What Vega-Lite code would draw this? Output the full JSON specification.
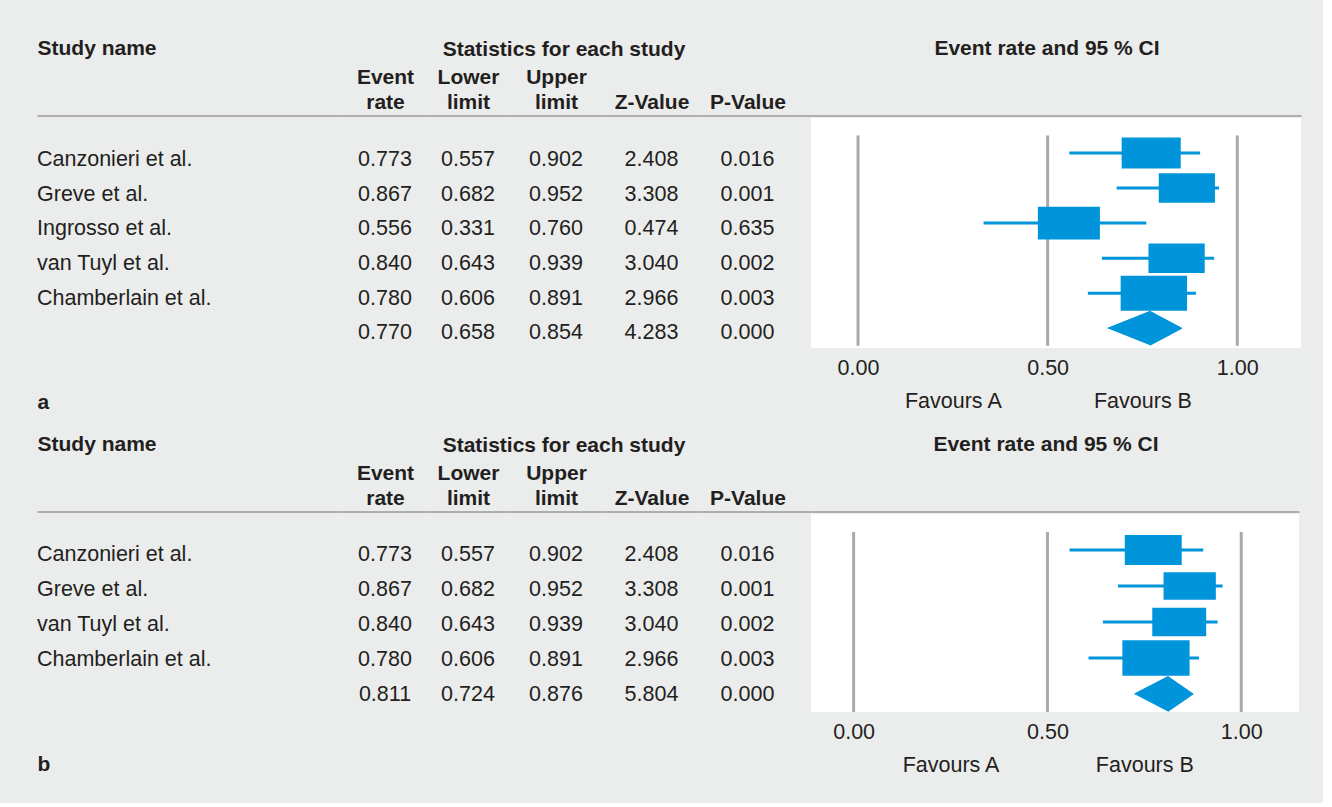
{
  "$schema": "https://vega.github.io/schema/vega-lite/v6.json",
  "background": "#ebecec",
  "padding": {"left": 37, "top": 37, "right": 22, "bottom": 27},
  "config": {
    "font": "Liberation Sans",
    "view": {"stroke": null},
    "text": {"font": "Liberation Sans", "fontSize": 21.5, "color": "#231f20"},
    "title": {"font": "Liberation Sans", "fontSize": 21, "fontWeight": "bold", "color": "#231f20", "anchor": "middle", "baseline": "alphabetic"},
    "axis": {"ticks": false, "tickSize": 0, "grid": false, "labelFlush": false, "labelOverlap": false, "minExtent": 0, "labelAngle": 0, "labelColor": "#231f20", "labelFont": "Liberation Sans", "domainColor": "#9a9a9a", "domainWidth": 1.5, "titleFont": "Liberation Sans", "titleFontSize": 21, "titleFontWeight": "bold", "titleColor": "#231f20"},
    "axisTop": {"domain": true, "offset": 2.5, "labelFontSize": 21, "labelFontWeight": "bold", "labelBaseline": "alphabetic", "labelLineHeight": 25},
    "axisBottom": {"domain": false, "labelFontSize": 21.5, "labelBaseline": "alphabetic", "titleBaseline": "alphabetic"}
  },
  "datasets": {
    "a": [
      {"study": "Canzonieri et al.", "rate": 0.773, "lower": 0.557, "upper": 0.902, "z": 2.408, "p": 0.016, "weight": 19.3},
      {"study": "Greve et al.", "rate": 0.867, "lower": 0.682, "upper": 0.952, "z": 3.308, "p": 0.001, "weight": 17.5},
      {"study": "Ingrosso et al.", "rate": 0.556, "lower": 0.331, "upper": 0.760, "z": 0.474, "p": 0.635, "weight": 21.3},
      {"study": "van Tuyl et al.", "rate": 0.840, "lower": 0.643, "upper": 0.939, "z": 3.040, "p": 0.002, "weight": 17.5},
      {"study": "Chamberlain et al.", "rate": 0.780, "lower": 0.606, "upper": 0.891, "z": 2.966, "p": 0.003, "weight": 24.4},
      {"study": "Overall", "rate": 0.770, "lower": 0.658, "upper": 0.854, "z": 4.283, "p": 0.000}
    ],
    "b": [
      {"study": "Canzonieri et al.", "rate": 0.773, "lower": 0.557, "upper": 0.902, "z": 2.408, "p": 0.016, "weight": 24.2},
      {"study": "Greve et al.", "rate": 0.867, "lower": 0.682, "upper": 0.952, "z": 3.308, "p": 0.001, "weight": 20.4},
      {"study": "van Tuyl et al.", "rate": 0.840, "lower": 0.643, "upper": 0.939, "z": 3.040, "p": 0.002, "weight": 21.7},
      {"study": "Chamberlain et al.", "rate": 0.780, "lower": 0.606, "upper": 0.891, "z": 2.966, "p": 0.003, "weight": 33.7},
      {"study": "Overall", "rate": 0.811, "lower": 0.724, "upper": 0.876, "z": 5.804, "p": 0.000}
    ],
    "aDiamond": [
      {"study": "Overall", "vertex": 1, "level": "mid", "x": 0.658},
      {"study": "Overall", "vertex": 2, "level": "top", "x": 0.770},
      {"study": "Overall", "vertex": 3, "level": "mid", "x": 0.854},
      {"study": "Overall", "vertex": 4, "level": "bottom", "x": 0.770}
    ],
    "bDiamond": [
      {"study": "Overall", "vertex": 1, "level": "mid", "x": 0.724},
      {"study": "Overall", "vertex": 2, "level": "top", "x": 0.811},
      {"study": "Overall", "vertex": 3, "level": "mid", "x": 0.876},
      {"study": "Overall", "vertex": 4, "level": "bottom", "x": 0.811}
    ],
    "grid": [{"g": 0}, {"g": 0.5}, {"g": 1}]
  },
  "columns": 7,
  "bounds": "flush",
  "align": "none",
  "spacing": {"row": 166, "column": 0},
  "resolve": {"scale": {"size": "independent", "yOffset": "independent"}},
  "concat": [
    {
      "width": 306, "height": 230,
      "data": {"name": "a"},
      "transform": [{"filter": "datum.study !== 'Overall'"}],
      "resolve": {"axis": {"x": "independent"}},
      "layer": [
        {
          "mark": {"type": "text", "align": "left", "baseline": "alphabetic"},
          "encoding": {
            "x": {"datum": "Study name", "type": "nominal", "scale": {"type": "point", "align": 0}, "axis": {"orient": "top", "title": null, "labelAlign": "left", "labelPadding": 60.8}},
            "y": {"field": "study", "type": "nominal", "scale": {"type": "point", "domain": ["Canzonieri et al.", "Greve et al.", "Ingrosso et al.", "van Tuyl et al.", "Chamberlain et al.", "Overall"], "padding": 0.8237, "align": 0.847}, "axis": null},
            "text": {"field": "study", "type": "nominal"}
          }
        },
        {
          "mark": {"type": "text", "text": ""},
          "encoding": {
            "x": {"datum": "Study name", "type": "nominal", "axis": {"orient": "bottom", "labels": false, "domain": false, "title": "a", "titleAnchor": "start", "titlePadding": 60}}
          }
        }
      ]
    },
    {
      "width": 84, "height": 230, "data": {"name": "a"},
      "mark": {"type": "text", "align": "center", "baseline": "alphabetic"},
      "encoding": {
        "x": {"datum": "Event rate", "type": "nominal", "scale": {"type": "point", "align": 0.5}, "axis": {"orient": "top", "title": null, "labelExpr": "split(datum.label, ' ')", "labelPadding": 31.8}},
        "y": {"field": "study", "type": "nominal", "scale": {"type": "point", "domain": ["Canzonieri et al.", "Greve et al.", "Ingrosso et al.", "van Tuyl et al.", "Chamberlain et al.", "Overall"], "padding": 0.8237, "align": 0.847}, "axis": null},
        "text": {"field": "rate", "type": "quantitative", "format": ".3f"}
      }
    },
    {
      "width": 82, "height": 230, "data": {"name": "a"},
      "mark": {"type": "text", "align": "center", "baseline": "alphabetic"},
      "encoding": {
        "x": {"datum": "Lower limit", "type": "nominal", "scale": {"type": "point", "align": 0.5}, "axis": {"orient": "top", "title": null, "labelExpr": "split(datum.label, ' ')", "labelPadding": 31.8}},
        "y": {"field": "study", "type": "nominal", "scale": {"type": "point", "domain": ["Canzonieri et al.", "Greve et al.", "Ingrosso et al.", "van Tuyl et al.", "Chamberlain et al.", "Overall"], "padding": 0.8237, "align": 0.847}, "axis": null},
        "text": {"field": "lower", "type": "quantitative", "format": ".3f"}
      }
    },
    {
      "width": 94, "height": 230, "data": {"name": "a"},
      "title": {"text": "Statistics for each study", "frame": "group", "offset": 7.2, "dx": 8},
      "mark": {"type": "text", "align": "center", "baseline": "alphabetic"},
      "encoding": {
        "x": {"datum": "Upper limit", "type": "nominal", "scale": {"type": "point", "align": 0.5}, "axis": {"orient": "top", "title": null, "labelExpr": "split(datum.label, ' ')", "labelPadding": 31.8}},
        "y": {"field": "study", "type": "nominal", "scale": {"type": "point", "domain": ["Canzonieri et al.", "Greve et al.", "Ingrosso et al.", "van Tuyl et al.", "Chamberlain et al.", "Overall"], "padding": 0.8237, "align": 0.847}, "axis": null},
        "text": {"field": "upper", "type": "quantitative", "format": ".3f"}
      }
    },
    {
      "width": 97, "height": 230, "data": {"name": "a"},
      "mark": {"type": "text", "align": "center", "baseline": "alphabetic"},
      "encoding": {
        "x": {"datum": "Z-Value", "type": "nominal", "scale": {"type": "point", "align": 0.5}, "axis": {"orient": "top", "title": null, "labelExpr": "split(datum.label, ' ')", "labelPadding": 6.8}},
        "y": {"field": "study", "type": "nominal", "scale": {"type": "point", "domain": ["Canzonieri et al.", "Greve et al.", "Ingrosso et al.", "van Tuyl et al.", "Chamberlain et al.", "Overall"], "padding": 0.8237, "align": 0.847}, "axis": null},
        "text": {"field": "z", "type": "quantitative", "format": ".3f"}
      }
    },
    {
      "width": 111, "height": 230, "data": {"name": "a"},
      "mark": {"type": "text", "align": "center", "baseline": "alphabetic"},
      "encoding": {
        "x": {"datum": "P-Value", "type": "nominal", "scale": {"type": "point", "align": 0.428}, "axis": {"orient": "top", "title": null, "labelExpr": "split(datum.label, ' ')", "labelPadding": 6.8}},
        "y": {"field": "study", "type": "nominal", "scale": {"type": "point", "domain": ["Canzonieri et al.", "Greve et al.", "Ingrosso et al.", "van Tuyl et al.", "Chamberlain et al.", "Overall"], "padding": 0.8237, "align": 0.847}, "axis": null},
        "text": {"field": "p", "type": "quantitative", "format": ".3f"}
      }
    },
    {
      "width": 490, "height": 230,
      "view": {"fill": "white", "stroke": null},
      "title": {"text": "Event rate and 95 % CI", "frame": "group", "offset": 56.2, "dx": -9},
      "data": {"name": "a"},
      "resolve": {"axis": {"x": "independent"}},
      "layer": [
        {
          "data": {"name": "grid"},
          "mark": {"type": "rule", "color": "#a7a9ac", "strokeWidth": 3},
          "encoding": {
            "x": {"field": "g", "type": "quantitative", "scale": {"domain": [-0.124, 1.168], "nice": false, "zero": false}, "axis": {"orient": "top", "labels": false, "title": null}},
            "y": {"datum": "Canzonieri et al.", "type": "nominal", "bandPosition": 0, "scale": {"type": "band", "domain": ["Canzonieri et al.", "Greve et al.", "Ingrosso et al.", "van Tuyl et al.", "Chamberlain et al.", "Overall"], "paddingInner": 0, "paddingOuter": 0.28, "align": 0.889}, "axis": null},
            "y2": {"datum": "Overall", "bandPosition": 1}
          }
        },
        {
          "transform": [{"filter": "datum.study !== 'Overall'"}],
          "mark": {"type": "rule", "color": "#0095da", "strokeWidth": 3},
          "encoding": {
            "x": {"field": "lower", "type": "quantitative", "axis": {"orient": "bottom", "title": null, "values": [0, 0.5, 1], "format": ".2f", "labelPadding": 26}},
            "x2": {"field": "upper"},
            "y": {"field": "study", "type": "nominal", "bandPosition": 0.5, "axis": null}
          }
        },
        {
          "transform": [{"filter": "datum.study !== 'Overall'"}],
          "mark": {"type": "point", "shape": "M-1,-0.526L1,-0.526L1,0.526L-1,0.526Z", "filled": true, "color": "#0095da", "opacity": 1, "strokeWidth": 0},
          "encoding": {
            "x": {"field": "rate", "type": "quantitative", "axis": {"orient": "bottom", "title": null, "values": [0.25, 0.75], "labelExpr": "datum.value < 0.5 ? 'Favours A' : 'Favours B'", "labelPadding": 59.5}},
            "y": {"field": "study", "type": "nominal", "axis": null},
            "size": {"field": "weight", "type": "quantitative", "scale": {"domain": [0, 30], "range": [0, 5421]}, "legend": null}
          }
        },
        {
          "data": {"name": "aDiamond"},
          "mark": {"type": "line", "fill": "#0095da", "stroke": "#0095da", "strokeWidth": 1},
          "encoding": {
            "x": {"field": "x", "type": "quantitative", "axis": null},
            "y": {"field": "study", "type": "nominal", "axis": null},
            "yOffset": {"field": "level", "type": "nominal", "scale": {"type": "point", "domain": ["top", "mid", "bottom"], "padding": 0.035}},
            "order": {"field": "vertex", "type": "quantitative"}
          }
        }
      ]
    },
    {
      "width": 306, "height": 198,
      "data": {"name": "b"},
      "transform": [{"filter": "datum.study !== 'Overall'"}],
      "resolve": {"axis": {"x": "independent"}},
      "layer": [
        {
          "mark": {"type": "text", "align": "left", "baseline": "alphabetic"},
          "encoding": {
            "x": {"datum": "Study name", "type": "nominal", "scale": {"type": "point", "align": 0}, "axis": {"orient": "top", "title": null, "labelAlign": "left", "labelPadding": 60.8}},
            "y": {"field": "study", "type": "nominal", "scale": {"type": "point", "domain": ["Canzonieri et al.", "Greve et al.", "van Tuyl et al.", "Chamberlain et al.", "Overall"], "padding": 0.8286, "align": 0.8155}, "axis": null},
            "text": {"field": "study", "type": "nominal"}
          }
        },
        {
          "mark": {"type": "text", "text": ""},
          "encoding": {
            "x": {"datum": "Study name", "type": "nominal", "axis": {"orient": "bottom", "labels": false, "domain": false, "title": "b", "titleAnchor": "start", "titlePadding": 58}}
          }
        }
      ]
    },
    {
      "width": 84, "height": 198, "data": {"name": "b"},
      "mark": {"type": "text", "align": "center", "baseline": "alphabetic"},
      "encoding": {
        "x": {"datum": "Event rate", "type": "nominal", "scale": {"type": "point", "align": 0.5}, "axis": {"orient": "top", "title": null, "labelExpr": "split(datum.label, ' ')", "labelPadding": 31.8}},
        "y": {"field": "study", "type": "nominal", "scale": {"type": "point", "domain": ["Canzonieri et al.", "Greve et al.", "van Tuyl et al.", "Chamberlain et al.", "Overall"], "padding": 0.8286, "align": 0.8155}, "axis": null},
        "text": {"field": "rate", "type": "quantitative", "format": ".3f"}
      }
    },
    {
      "width": 82, "height": 198, "data": {"name": "b"},
      "mark": {"type": "text", "align": "center", "baseline": "alphabetic"},
      "encoding": {
        "x": {"datum": "Lower limit", "type": "nominal", "scale": {"type": "point", "align": 0.5}, "axis": {"orient": "top", "title": null, "labelExpr": "split(datum.label, ' ')", "labelPadding": 31.8}},
        "y": {"field": "study", "type": "nominal", "scale": {"type": "point", "domain": ["Canzonieri et al.", "Greve et al.", "van Tuyl et al.", "Chamberlain et al.", "Overall"], "padding": 0.8286, "align": 0.8155}, "axis": null},
        "text": {"field": "lower", "type": "quantitative", "format": ".3f"}
      }
    },
    {
      "width": 94, "height": 198, "data": {"name": "b"},
      "title": {"text": "Statistics for each study", "frame": "group", "offset": 7.2, "dx": 8},
      "mark": {"type": "text", "align": "center", "baseline": "alphabetic"},
      "encoding": {
        "x": {"datum": "Upper limit", "type": "nominal", "scale": {"type": "point", "align": 0.5}, "axis": {"orient": "top", "title": null, "labelExpr": "split(datum.label, ' ')", "labelPadding": 31.8}},
        "y": {"field": "study", "type": "nominal", "scale": {"type": "point", "domain": ["Canzonieri et al.", "Greve et al.", "van Tuyl et al.", "Chamberlain et al.", "Overall"], "padding": 0.8286, "align": 0.8155}, "axis": null},
        "text": {"field": "upper", "type": "quantitative", "format": ".3f"}
      }
    },
    {
      "width": 97, "height": 198, "data": {"name": "b"},
      "mark": {"type": "text", "align": "center", "baseline": "alphabetic"},
      "encoding": {
        "x": {"datum": "Z-Value", "type": "nominal", "scale": {"type": "point", "align": 0.5}, "axis": {"orient": "top", "title": null, "labelExpr": "split(datum.label, ' ')", "labelPadding": 6.8}},
        "y": {"field": "study", "type": "nominal", "scale": {"type": "point", "domain": ["Canzonieri et al.", "Greve et al.", "van Tuyl et al.", "Chamberlain et al.", "Overall"], "padding": 0.8286, "align": 0.8155}, "axis": null},
        "text": {"field": "z", "type": "quantitative", "format": ".3f"}
      }
    },
    {
      "width": 111, "height": 198, "data": {"name": "b"},
      "mark": {"type": "text", "align": "center", "baseline": "alphabetic"},
      "encoding": {
        "x": {"datum": "P-Value", "type": "nominal", "scale": {"type": "point", "align": 0.428}, "axis": {"orient": "top", "title": null, "labelExpr": "split(datum.label, ' ')", "labelPadding": 6.8}},
        "y": {"field": "study", "type": "nominal", "scale": {"type": "point", "domain": ["Canzonieri et al.", "Greve et al.", "van Tuyl et al.", "Chamberlain et al.", "Overall"], "padding": 0.8286, "align": 0.8155}, "axis": null},
        "text": {"field": "p", "type": "quantitative", "format": ".3f"}
      }
    },
    {
      "width": 488, "height": 198,
      "view": {"fill": "white", "stroke": null},
      "title": {"text": "Event rate and 95 % CI", "frame": "group", "offset": 56.2, "dx": -9},
      "data": {"name": "b"},
      "resolve": {"axis": {"x": "independent"}},
      "layer": [
        {
          "data": {"name": "grid"},
          "mark": {"type": "rule", "color": "#a7a9ac", "strokeWidth": 3},
          "encoding": {
            "x": {"field": "g", "type": "quantitative", "scale": {"domain": [-0.110, 1.149], "nice": false, "zero": false}, "axis": {"orient": "top", "labels": false, "title": null}},
            "y": {"datum": "Canzonieri et al.", "type": "nominal", "bandPosition": 0, "scale": {"type": "band", "domain": ["Canzonieri et al.", "Greve et al.", "van Tuyl et al.", "Chamberlain et al.", "Overall"], "paddingInner": 0, "paddingOuter": 0.25, "align": 1}, "axis": null},
            "y2": {"datum": "Overall", "bandPosition": 1}
          }
        },
        {
          "transform": [{"filter": "datum.study !== 'Overall'"}],
          "mark": {"type": "rule", "color": "#0095da", "strokeWidth": 3},
          "encoding": {
            "x": {"field": "lower", "type": "quantitative", "axis": {"orient": "bottom", "title": null, "values": [0, 0.5, 1], "format": ".2f", "labelPadding": 26}},
            "x2": {"field": "upper"},
            "y": {"field": "study", "type": "nominal", "bandPosition": 0.5, "axis": null}
          }
        },
        {
          "transform": [{"filter": "datum.study !== 'Overall'"}],
          "mark": {"type": "point", "shape": "M-1,-0.526L1,-0.526L1,0.526L-1,0.526Z", "filled": true, "color": "#0095da", "opacity": 1, "strokeWidth": 0},
          "encoding": {
            "x": {"field": "rate", "type": "quantitative", "axis": {"orient": "bottom", "title": null, "values": [0.25, 0.75], "labelExpr": "datum.value < 0.5 ? 'Favours A' : 'Favours B'", "labelPadding": 59.5}},
            "y": {"field": "study", "type": "nominal", "axis": null},
            "size": {"field": "weight", "type": "quantitative", "scale": {"domain": [0, 30], "range": [0, 4020]}, "legend": null}
          }
        },
        {
          "data": {"name": "bDiamond"},
          "mark": {"type": "line", "fill": "#0095da", "stroke": "#0095da", "strokeWidth": 1},
          "encoding": {
            "x": {"field": "x", "type": "quantitative", "axis": null},
            "y": {"field": "study", "type": "nominal", "axis": null},
            "yOffset": {"field": "level", "type": "nominal", "scale": {"type": "point", "domain": ["top", "mid", "bottom"], "padding": 0.035}},
            "order": {"field": "vertex", "type": "quantitative"}
          }
        }
      ]
    }
  ]
}
